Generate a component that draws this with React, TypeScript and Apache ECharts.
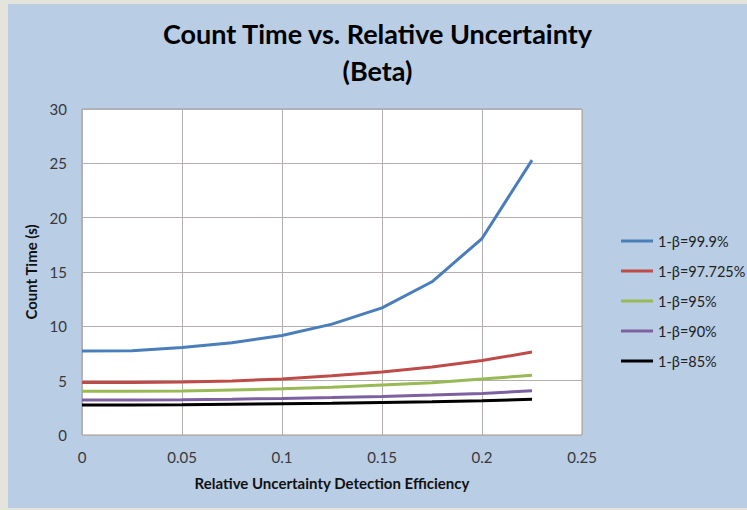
import React, { useEffect, useRef } from "react";
import * as echarts from "echarts";

const xValues = [0, 0.025, 0.05, 0.075, 0.1, 0.125, 0.15, 0.175, 0.2, 0.225];
const s999 = [7.72, 7.75, 8.06, 8.49, 9.16, 10.2, 11.7, 14.1, 18.08, 25.3];
const s97725 = [4.84, 4.84, 4.87, 4.98, 5.15, 5.45, 5.8, 6.25, 6.85, 7.63];
const s95 = [4.02, 4.02, 4.05, 4.15, 4.25, 4.4, 4.6, 4.8, 5.15, 5.5];
const s90 = [3.22, 3.22, 3.25, 3.3, 3.37, 3.45, 3.55, 3.68, 3.83, 4.07];
const s85 = [2.76, 2.76, 2.78, 2.83, 2.88, 2.93, 3.0, 3.07, 3.15, 3.28];
const seriesNames = ["1-β=99.9%", "1-β=97.725%", "1-β=95%", "1-β=90%", "1-β=85%"];
const seriesColors = ["#4A7EBB", "#BE4B48", "#98B954", "#7D60A0", "#000000"];
const allSeries = [s999, s97725, s95, s90, s85];

const FONT = "Lato, 'Open Sans', sans-serif";

export default function App() {
  const ref = useRef<HTMLDivElement>(null);
  useEffect(() => {
    if (!ref.current) return;
    const chart = echarts.init(ref.current, undefined, { renderer: "svg" });
    chart.setOption({
      animation: false,
      backgroundColor: "#B9CDE5",
      title: {
        text: "Count Time vs. Relative Uncertainty\n(Beta)",
        left: "center",
        top: 6,
        textStyle: {
          fontFamily: FONT,
          fontWeight: "bold",
          fontSize: 27,
          lineHeight: 37,
          color: "#000",
        },
      },
      legend: {
        orient: "vertical",
        left: 613,
        top: 229,
        padding: 0,
        icon: "rect",
        itemWidth: 32,
        itemHeight: 3,
        itemGap: 14,
        data: seriesNames,
        textStyle: { fontFamily: FONT, fontSize: 14.5, color: "#222", lineHeight: 16, height: 16 },
      },
      grid: {
        left: 74,
        right: 165,
        top: 105,
        bottom: 73,
        show: true,
        backgroundColor: "#FFFFFF",
        borderColor: "#9A9A9A",
        borderWidth: 1,
      },
      xAxis: {
        type: "value",
        min: 0,
        max: 0.25,
        interval: 0.05,
        name: "Relative Uncertainty Detection Efficiency",
        nameLocation: "middle",
        nameGap: 40,
        nameTextStyle: { fontFamily: FONT, fontWeight: "bold", fontSize: 15, color: "#111" },
        axisLine: { show: false },
        axisTick: { show: false },
        axisLabel: { fontFamily: FONT, fontSize: 15, color: "#383838", margin: 14 },
        splitLine: { show: true, lineStyle: { color: "#B5AEAE", width: 1 } },
      },
      yAxis: {
        type: "value",
        min: 0,
        max: 30,
        interval: 5,
        name: "Count Time (s)",
        nameLocation: "middle",
        nameGap: 42,
        nameRotate: 90,
        nameTextStyle: { fontFamily: FONT, fontWeight: "bold", fontSize: 15, color: "#111" },
        axisLine: { show: false },
        axisTick: { show: false },
        axisLabel: { fontFamily: FONT, fontSize: 15, color: "#383838", margin: 15 },
        splitLine: { show: true, lineStyle: { color: "#B5AEAE", width: 1 } },
      },
      series: allSeries.map((vals, i) => ({
        name: seriesNames[i],
        type: "line",
        symbol: "none",
        data: xValues.map((x, j) => [x, vals[j]]),
        lineStyle: { color: seriesColors[i], width: 3 },
        itemStyle: { color: seriesColors[i] },
      })),
    });
    return () => chart.dispose();
  }, []);
  return (
    <div
      style={{
        position: "fixed",
        left: 0,
        top: 0,
        width: 747,
        height: 510,
        background: "#E4E4DC",
      }}
    >
      <div
        ref={ref}
        style={{ position: "absolute", left: 8, top: 4, width: 739, height: 504 }}
      />
    </div>
  );
}
